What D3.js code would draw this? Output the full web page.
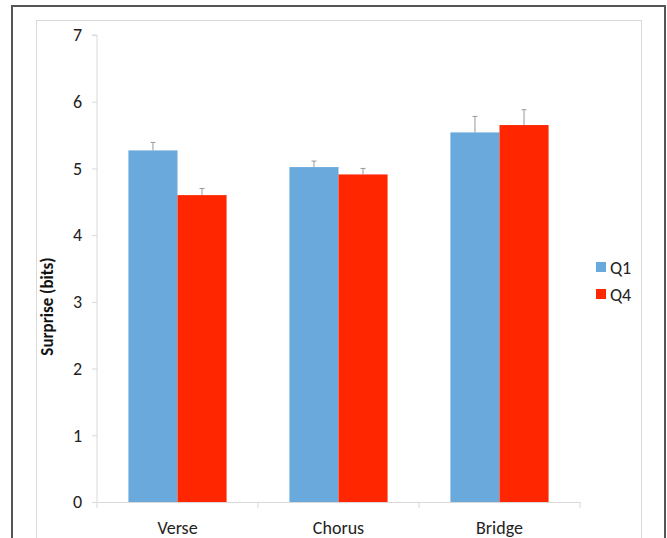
<!DOCTYPE html>
<html><head><meta charset="utf-8">
<script src="https://cdn.jsdelivr.net/npm/d3@7"></script>
<style>body{margin:0;background:#fff;} text{font-family:Carlito,Lato,"Open Sans",sans-serif;}</style>
</head><body>
<svg id="c" width="667" height="538"></svg>
<script>
const categories = ["Verse", "Chorus", "Bridge"];
const seriesNames = ["Q1", "Q4"];
const q1Values = [5.27, 5.02, 5.54];
const q4Values = [4.60, 4.91, 5.65];
const q1Errors = [0.12, 0.09, 0.24];
const q4Errors = [0.10, 0.09, 0.23];
const yTicks = [0, 1, 2, 3, 4, 5, 6, 7];
const colors = ["#6aa9dc", "#ff2600"];

(function () {
const svg = d3.select("#c");
// frames
svg.append("rect").attr("x", 12).attr("y", 6).attr("width", 653).attr("height", 540)
  .attr("fill", "none").attr("stroke", "#555").attr("stroke-width", 2);
svg.append("rect").attr("x", 36.5).attr("y", 20.5).attr("width", 605).attr("height", 530)
  .attr("fill", "none").attr("stroke", "#d9d9d9").attr("stroke-width", 1);

const mLeft = 97, mRight = 580, mTop = 35, mBottom = 502;
const x = d3.scaleBand().domain(categories).range([mLeft, mRight]).paddingInner(0).paddingOuter(0);
const xs = d3.scaleBand().domain(seriesNames).range([0, x.bandwidth()]).paddingInner(0).paddingOuter(0.64);
const y = d3.scaleLinear().domain([0, 7]).range([mBottom, mTop]);

// y axis
const ya = svg.append("g").attr("transform", `translate(${mLeft},0)`)
  .call(d3.axisLeft(y).tickValues(yTicks).tickSize(5).tickPadding(10).tickFormat(d3.format("d")));
ya.select(".domain").attr("stroke", "#d9d9d9").attr("d", `M-5,${mTop}H0V${mBottom}`);
ya.selectAll(".tick line").attr("stroke", "#d9d9d9");
ya.selectAll("text").attr("font-size", 18).attr("fill", "#222");

// x axis
const xa = svg.append("g").attr("transform", `translate(0,${mBottom})`)
  .call(d3.axisBottom(x).tickSize(0).tickPadding(19));
xa.select(".domain").attr("stroke", "#d9d9d9");
xa.selectAll("text").attr("font-size", 18).attr("fill", "#222");
const bounds = categories.map(c => x(c)).concat([mRight]);
svg.append("g").selectAll("line").data(bounds).join("line")
  .attr("x1", d => d).attr("x2", d => d).attr("y1", mBottom).attr("y2", mBottom + 6)
  .attr("stroke", "#d9d9d9");

// y label
svg.append("text").attr("transform", `translate(53,${(mTop + mBottom) / 2 + 38}) rotate(-90)`)
  .attr("text-anchor", "middle").attr("font-size", 17).attr("font-weight", "bold").attr("fill", "#111")
  .text("Surprise (bits)");

const data = [];
categories.forEach((c, i) => {
  data.push({cat: c, s: "Q1", v: q1Values[i], e: q1Errors[i], col: colors[0]});
  data.push({cat: c, s: "Q4", v: q4Values[i], e: q4Errors[i], col: colors[1]});
});

svg.append("g").selectAll("rect").data(data).join("rect")
  .attr("x", d => x(d.cat) + xs(d.s)).attr("width", xs.bandwidth())
  .attr("y", d => y(d.v)).attr("height", d => y(0) - y(d.v))
  .attr("fill", d => d.col);

const eg = svg.append("g").attr("stroke", "#999").attr("stroke-width", 1);
data.forEach(d => {
  const cx = x(d.cat) + xs(d.s) + xs.bandwidth() / 2;
  eg.append("line").attr("x1", cx).attr("x2", cx).attr("y1", y(d.v)).attr("y2", y(d.v + d.e));
  eg.append("line").attr("x1", cx - 2.5).attr("x2", cx + 2.5).attr("y1", y(d.v + d.e)).attr("y2", y(d.v + d.e));
});

// legend
const lg = svg.append("g");
seriesNames.forEach((s, i) => {
  lg.append("rect").attr("x", 596).attr("y", 262 + i * 27).attr("width", 10).attr("height", 10).attr("fill", colors[i]);
  lg.append("text").attr("x", 610).attr("y", 274 + i * 27).attr("font-size", 18).attr("fill", "#222").text(s);
});
})();
</script>
</body></html>
